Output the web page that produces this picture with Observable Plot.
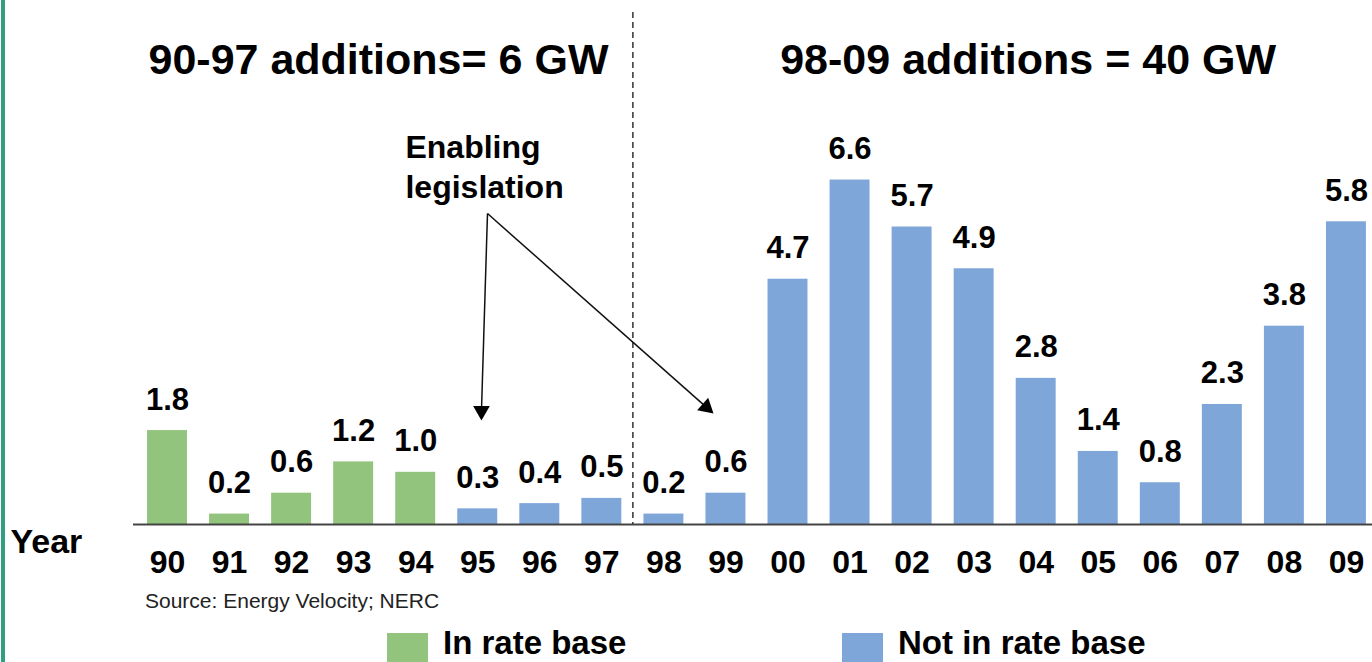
<!DOCTYPE html>
<html>
<head>
<meta charset="utf-8">
<script src="https://cdn.jsdelivr.net/npm/d3@7"></script>
<script src="https://cdn.jsdelivr.net/npm/@observablehq/plot@0.6"></script>
<style>
  html, body { margin: 0; padding: 0; background: #fff; }
  #wrap { position: relative; width: 1372px; height: 662px; overflow: hidden; font-family: "Liberation Sans", Arial, sans-serif; }
  #edge { position: absolute; left: 1px; top: 0; width: 4px; height: 662px; background: #2e9f80; }
  #chart { position: absolute; left: 0; top: 0; }
  #source { position: absolute; left: 145px; top: 589px; font-size: 21px; line-height: 24px; color: #222; white-space: nowrap; }
  .leg { position: absolute; top: 628px; height: 30px; display: flex; align-items: flex-start; white-space: nowrap; }
  .leg .sw { width: 41px; height: 29px; margin-top: 5px; margin-right: 15px; }
  .leg .lb { font-size: 33px; font-weight: bold; color: #000; line-height: 30px; height: 30px; }
</style>
</head>
<body>
<div id="wrap">
  <div id="edge"></div>
  <div id="chart"></div>
  <div id="source"></div>
  <div class="leg" id="leg0" style="left:387px"></div>
  <div class="leg" id="leg1" style="left:842px"></div>
</div>
<script>
// ---- data ----
const years = ["90","91","92","93","94","95","96","97","98","99","00","01","02","03","04","05","06","07","08","09"];
const values = [1.8, 0.2, 0.6, 1.2, 1.0, 0.3, 0.4, 0.5, 0.2, 0.6, 4.7, 6.6, 5.7, 4.9, 2.8, 1.4, 0.8, 2.3, 3.8, 5.8];
const groups = ["In rate base","In rate base","In rate base","In rate base","In rate base",
  "Not in rate base","Not in rate base","Not in rate base","Not in rate base","Not in rate base",
  "Not in rate base","Not in rate base","Not in rate base","Not in rate base","Not in rate base",
  "Not in rate base","Not in rate base","Not in rate base","Not in rate base","Not in rate base"];
const seriesNames = ["In rate base", "Not in rate base"];
const seriesColors = ["#93c47d", "#7fa6d9"];
const periodTitles = ["90-97 additions= 6 GW", "98-09 additions = 40 GW"];
const axisLabel = "Year";
const sourceText = "Source: Energy Velocity; NERC";
const annotationText = "Enabling\nlegislation";

// annotation anchors, in data units (x = year index, y = GW)
const periodTitleX = [3.4, 13.87];
const periodTitleY = [8.64, 8.64];
const annotationX = 3.835, annotationY = 6.264;
const arrowStartX = [5.157, 5.157], arrowStartY = [5.958, 5.958];
const arrowHeadX = [5.06, 8.683], arrowHeadY = [2.176, 2.249];
const arrowHeadAngle = [180, 131.5];
const dividerX = 7.5;

const data = years.map((y, i) => ({i, year: y, value: values[i], group: groups[i]}));
const half = 0.322;

const chart = Plot.plot({
  width: 1372,
  height: 590,
  marginTop: 0,
  marginBottom: 66,
  marginLeft: 133,
  marginRight: 0,
  style: {fontFamily: "'Liberation Sans', Arial, sans-serif", color: "#000", background: "transparent", overflow: "visible"},
  x: {type: "linear", domain: [-0.548, 19.42]},
  y: {domain: [0, 10.04], axis: null},
  color: {domain: seriesNames, range: seriesColors},
  marks: [
    Plot.rect(data, {x1: d => d.i - half, x2: d => d.i + half, y1: 0, y2: "value", fill: "group"}),
    Plot.ruleY([0], {stroke: "#444", strokeWidth: 2}),
    Plot.ruleX([dividerX], {insetTop: 12, stroke: "#333", strokeWidth: 1.5, strokeDasharray: "6,4"}),
    Plot.text(data, {x: "i", y: "value", text: d => d.value.toFixed(1), dy: -21, lineAnchor: "bottom", fontSize: 31, fontWeight: "bold", fill: "#000"}),
    Plot.axisX({ticks: d3.range(years.length), tickFormat: i => years[i], tickSize: 0, tickPadding: 26, fontSize: 32, fontWeight: "bold", label: null, fill: "#000"}),
    Plot.text([axisLabel], {frameAnchor: "bottom-left", dx: -123, dy: 28, text: d => d, textAnchor: "start", lineAnchor: "bottom", fontSize: 34, fontWeight: "bold", fill: "#000"}),
    Plot.text(periodTitles, {x: periodTitleX, y: periodTitleY, text: d => d, lineAnchor: "bottom", fontSize: 43, fontWeight: "bold", fill: "#000"}),
    Plot.text([annotationText], {x: [annotationX], y: [annotationY], text: d => d, textAnchor: "start", lineAnchor: "bottom", lineHeight: 1.25, fontSize: 32, fontWeight: "bold", fill: "#000"}),
    Plot.link([0, 1], {x1: i => arrowStartX[i], y1: i => arrowStartY[i], x2: i => arrowHeadX[i], y2: i => arrowHeadY[i], stroke: "#111", strokeWidth: 1.5}),
    Plot.dot([0, 1], {x: i => arrowHeadX[i], y: i => arrowHeadY[i], symbol: "triangle", r: 6.2, fill: "#000", stroke: "none", rotate: i => arrowHeadAngle[i]})
  ]
});
document.getElementById("chart").appendChild(chart);

document.getElementById("source").textContent = sourceText;
seriesNames.forEach((name, k) => {
  const el = document.getElementById("leg" + k);
  const sw = document.createElement("div");
  sw.className = "sw";
  sw.style.background = seriesColors[k];
  const lb = document.createElement("div");
  lb.className = "lb";
  lb.textContent = name;
  el.appendChild(sw);
  el.appendChild(lb);
});
</script>
</body>
</html>
